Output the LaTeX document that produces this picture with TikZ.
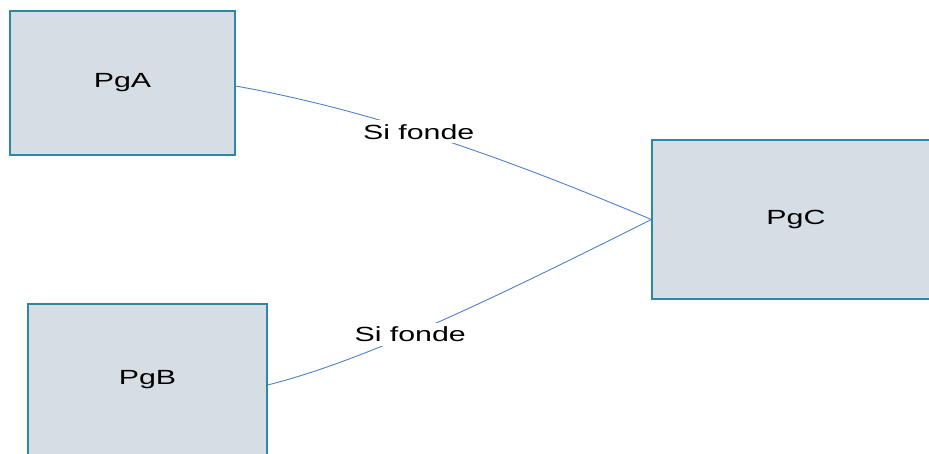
\documentclass[tikz,border=0pt]{standalone}
\usepackage{fontspec}
\setmainfont{Liberation Sans}
\usepackage{graphicx}
\definecolor{boxfill}{HTML}{D5DEE5}
\definecolor{boxline}{HTML}{2E87A3}
\definecolor{edgeline}{HTML}{4F81C4}
\newcommand{\wtxt}[1]{\scalebox{1.48}[1]{#1}}
\begin{document}
\begin{tikzpicture}[x=1pt,y=-1pt,
  pgbox/.style={draw=boxline,fill=boxfill,line width=1.2pt,inner sep=0pt,
    font=\fontsize{20.5}{24}\selectfont},
  link/.style={draw=edgeline,line width=0.9pt},
  lbl/.style={fill=white,inner xsep=1pt,inner ysep=4pt,font=\fontsize{20.5}{24}\selectfont}]
\useasboundingbox (0,0) rectangle (929,453);
\clip (0,0) rectangle (929,453);
\node[pgbox,minimum width=225pt,minimum height=144pt] (A) at (122.5,83) {\wtxt{PgA}};
\node[pgbox,minimum width=239pt,minimum height=152pt] (B) at (147.5,380) {\wtxt{PgB}};
\node[pgbox,minimum width=288pt,minimum height=159pt] (C) at (796,219.5) {\wtxt{PgC}};
\draw[link] ([yshift=-3pt]A.east) .. controls +(140,25) and +(-140,-59) .. (C.west)
  node[lbl,pos=0.44] (la) {\wtxt{Si fonde}};
\draw[link] ([yshift=-5pt]B.east) .. controls +(100,-25) and +(-150,75) .. (C.west)
  node[lbl,pos=0.42] (lb) {\wtxt{Si fonde}};
\end{tikzpicture}
\end{document}
